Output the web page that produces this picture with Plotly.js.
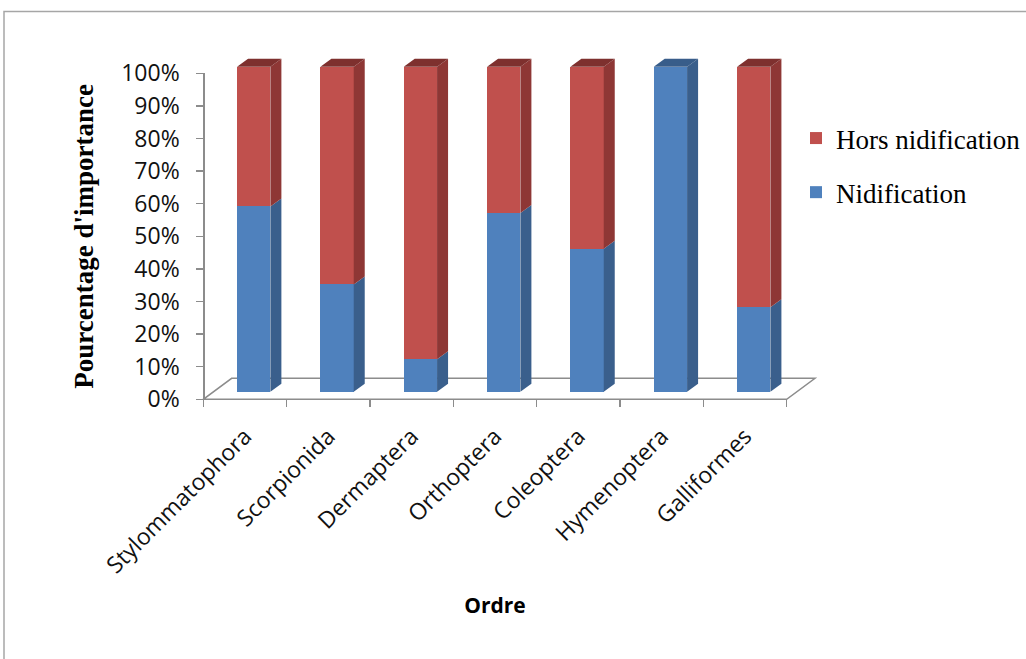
<!DOCTYPE html>
<html>
<head>
<meta charset="utf-8">
<script src="https://cdn.plot.ly/plotly-3.0.1.min.js"></script>
<style>
  html, body { margin: 0; padding: 0; background: #ffffff; }
  #chart { width: 1026px; height: 659px; }
</style>
</head>
<body>
<div id="chart"></div>
<script>
// Ordres et part (%) des individus trouvés en période de nidification / hors nidification
const categories = ['Stylommatophora', 'Scorpionida', 'Dermaptera', 'Orthoptera', 'Coleoptera', 'Hymenoptera', 'Galliformes'];
const nidification = [57, 33, 10, 55, 44, 100, 26];
const horsNidification = [43, 67, 90, 45, 56, 0, 74];
const percentTicks = [0, 10, 20, 30, 40, 50, 60, 70, 80, 90, 100];
const percentLabels = percentTicks.map(v => v + '%');

// colours of the front, side and top faces of the 3-D columns
const BLUE = '#4F81BD', BLUE_SIDE = '#3A5F8C', BLUE_TOP = '#385D8A';
const RED = '#C0504D', RED_SIDE = '#8E3735', RED_TOP = '#7E302E';
const AXIS_GREY = '#8C8C8C';

// column geometry, in category units (x) and percent units (y)
const BAR_OFFSET = -0.095;
const BAR_WIDTH = 0.40;
const DEPTH_X = 0.132;
const DEPTH_Y = 2.46;

const xPos = categories.map((_, i) => i);

// right-hand side face of every stacked segment
function sideFaces(bases, heights) {
  const xs = [], ys = [];
  heights.forEach((h, i) => {
    if (h <= 0) return;
    const b = bases[i];
    const xr = xPos[i] + BAR_OFFSET + BAR_WIDTH;
    xs.push(xr, xr + DEPTH_X, xr + DEPTH_X, xr, xr, null);
    ys.push(b, b + DEPTH_Y, b + h + DEPTH_Y, b + h, b, null);
  });
  return { xs, ys };
}

// top face of a column, coloured by the segment that ends at the top
function topFaces(useTopSeries) {
  const xs = [], ys = [];
  categories.forEach((_, i) => {
    const redOnTop = horsNidification[i] > 0;
    if (redOnTop !== useTopSeries) return;
    const t = nidification[i] + horsNidification[i];
    const xl = xPos[i] + BAR_OFFSET;
    const xr = xl + BAR_WIDTH;
    xs.push(xl, xl + DEPTH_X, xr + DEPTH_X, xr, xl, null);
    ys.push(t, t + DEPTH_Y, t + DEPTH_Y, t, t, null);
  });
  return { xs, ys };
}

const zeros = categories.map(() => 0);
const blueSide = sideFaces(zeros, nidification);
const redSide = sideFaces(nidification, horsNidification);
const redTop = topFaces(true);
const blueTop = topFaces(false);

function face(poly, color) {
  return {
    type: 'scatter', mode: 'lines', x: poly.xs, y: poly.ys,
    xaxis: 'x', yaxis: 'y2', fill: 'toself', fillcolor: color,
    line: { width: 0, color: color }, hoverinfo: 'skip', showlegend: false
  };
}

const traces = [
  // empty trace that holds the visible percent axis
  { type: 'scatter', mode: 'markers', x: [], y: [], xaxis: 'x', yaxis: 'y', showlegend: false, hoverinfo: 'skip' },
  {
    type: 'bar', name: 'Nidification', x: xPos, y: nidification,
    xaxis: 'x', yaxis: 'y2', offset: BAR_OFFSET, width: BAR_WIDTH,
    marker: { color: BLUE, line: { width: 0 } },
    legendgroup: 'nid', legendrank: 2
  },
  {
    type: 'bar', name: 'Hors nidification', x: xPos, y: horsNidification,
    xaxis: 'x', yaxis: 'y2', offset: BAR_OFFSET, width: BAR_WIDTH,
    marker: { color: RED, line: { width: 0 } },
    legendgroup: 'hors', legendrank: 1
  },
  face(blueSide, BLUE_SIDE),
  face(redSide, RED_SIDE),
  face(redTop, RED_TOP),
  face(blueTop, BLUE_TOP)
];

// floor of the 3-D plot area
const FLOOR_FRONT = -2.34, FLOOR_BACK = 4.12, FLOOR_DX = 0.34;
const firstEdge = -0.5, lastEdge = categories.length - 0.5;
const floorPath = 'M ' + firstEdge + ',' + FLOOR_FRONT +
  ' L ' + lastEdge + ',' + FLOOR_FRONT +
  ' L ' + (lastEdge + FLOOR_DX) + ',' + FLOOR_BACK +
  ' L ' + (firstEdge + FLOOR_DX) + ',' + FLOOR_BACK + ' Z';

const boundaryTicks = [];
for (let k = 0; k <= categories.length; k++) boundaryTicks.push(k - 0.5);

const sansFont = 'Open Sans, DejaVu Sans, sans-serif';
const serifFont = 'Liberation Serif, Times New Roman, serif';

const layout = {
  width: 1026, height: 659,
  margin: { l: 0, r: 0, t: 0, b: 0 },
  paper_bgcolor: '#ffffff', plot_bgcolor: 'rgba(0,0,0,0)',
  barmode: 'stack', bargap: 0,
  showlegend: true,
  legend: {
    x: 0.776, xanchor: 'left', y: 0.827, yanchor: 'top',
    traceorder: 'grouped', tracegroupgap: 16,
    font: { family: serifFont, size: 27, color: '#000000' },
    bgcolor: 'rgba(0,0,0,0)'
  },
  xaxis: {
    domain: [172 / 1026, 818 / 1026],
    range: [-0.8756, 6.876],
    anchor: 'y',
    tickmode: 'array', tickvals: xPos, ticktext: categories,
    ticks: '', tickangle: -45,
    ticklabelstandoff: 18, ticklabelshift: 0,
    tickfont: { family: sansFont, size: 23, color: '#111111' },
    minor: { tickmode: 'array', tickvals: boundaryTicks, ticks: 'outside', ticklen: 7, tickwidth: 1.5, tickcolor: AXIS_GREY, showgrid: false },
    showline: false, showgrid: false, zeroline: false,
    title: { text: 'Ordre', font: { family: sansFont, size: 21, color: '#000000', weight: 'bold' }, standoff: 19 },
    fixedrange: true
  },
  yaxis: {
    domain: [(659 - 399.3) / 659, (659 - 73.3) / 659],
    range: [0, 100], autorange: false,
    anchor: 'free', position: 203.3 / 1026,
    tickmode: 'array', tickvals: percentTicks, ticktext: percentLabels,
    ticks: 'outside', ticklen: 7, tickwidth: 1.5, tickcolor: AXIS_GREY,
    ticklabelstandoff: 12,
    tickfont: { family: sansFont, size: 23, color: '#111111' },
    showline: true, linecolor: AXIS_GREY, linewidth: 1.5,
    showgrid: false, zeroline: false,
    title: { text: "Pourcentage d'importance", font: { family: serifFont, size: 27, color: '#000000', weight: 'bold' }, standoff: 18 },
    fixedrange: true
  },
  yaxis2: {
    domain: [(659 - 405) / 659, (659 - 45) / 659],
    range: [-4.092, 106.677], autorange: false,
    anchor: 'x', visible: false, showgrid: false, zeroline: false,
    fixedrange: true
  },
  shapes: [
    {
      type: 'path', xref: 'x', yref: 'y2', layer: 'below', path: floorPath,
      line: { color: AXIS_GREY, width: 1.5 }, fillcolor: 'rgba(0,0,0,0)'
    },
    {
      type: 'path', xref: 'paper', yref: 'paper',
      path: 'M 0.0039,-0.02 L 0.0039,0.9825 L 1.02,0.9825',
      line: { color: '#A6A6A6', width: 1.5 }
    }
  ]
};

Plotly.newPlot('chart', traces, layout, { displayModeBar: false, staticPlot: true });
</script>
</body>
</html>
